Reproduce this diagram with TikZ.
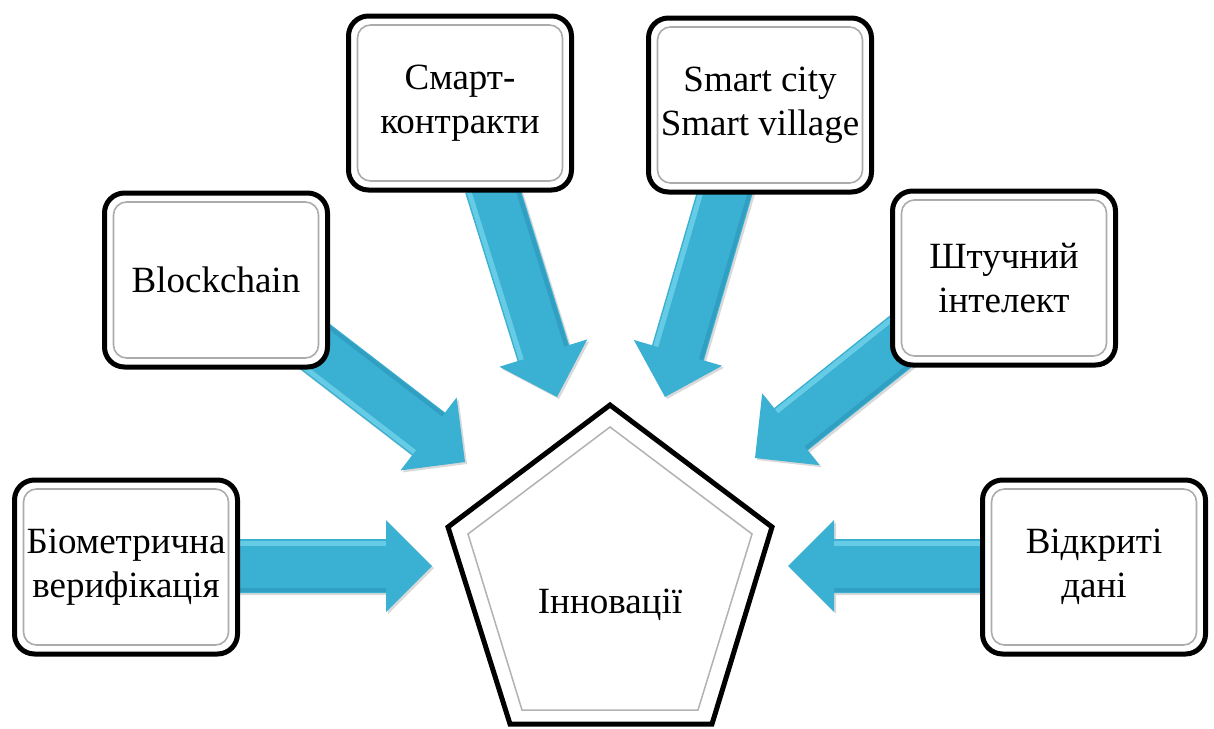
\documentclass[tikz,border=0pt]{standalone}
\usepackage{fontspec}
\setmainfont{Liberation Serif}
\usetikzlibrary{calc,shadows}
\definecolor{arrlight}{HTML}{8BE3F5}
\definecolor{arrmid}{HTML}{3AB0D2}
\definecolor{arrdark}{HTML}{2A95B6}
\tikzset{
  box/.style={draw=black, line width=5pt, rounded corners=20pt, fill=white,
    minimum width=223pt, minimum height=174pt, align=center,
    font=\fontsize{37}{44}\selectfont, inner sep=0pt,
    path picture={\draw[gray!65, line width=1.6pt, rounded corners=13pt]
      ([shift={(9pt,9pt)}]path picture bounding box.south west) rectangle
      ([shift={(-9pt,-9pt)}]path picture bounding box.north east);}},
  arrowbody/.style={fill=arrmid,
    drop shadow={opacity=0.3, shadow xshift=2pt, shadow yshift=-2pt}},
  hilite/.style={draw=arrlight, line width=5pt, opacity=0.55},
  lolite/.style={draw=arrdark, line width=4pt, opacity=0.6},
  lbl/.style={font=\fontsize{37}{44}\selectfont, align=center, inner sep=0pt},
  pentouter/.style={draw=black, line width=5pt, line join=miter, fill=white},
  pentinner/.style={draw=gray!60, line width=1.5pt},
}
% #1 tail, #2 tip, #3 side of the highlight (90 or -90)
\newcommand{\blockarrow}[3]{%
  \coordinate (hb) at ($(#2)!46pt!(#1)$);
  \path[arrowbody]
    ($(#1)!27pt!90:(#2)$) -- ($(hb)!27pt!90:(#2)$) -- ($(hb)!46pt!90:(#2)$) --
    (#2) -- ($(hb)!46pt!-90:(#2)$) -- ($(hb)!27pt!-90:(#2)$) --
    ($(#1)!27pt!-90:(#2)$) -- cycle;
  \path[hilite] ($(#1)!23pt!#3:(#2)$) -- ($(hb)!23pt!#3:(#2)$);
  \path[lolite] ($(#1)!24pt!-#3:(#2)$) -- ($(hb)!24pt!-#3:(#2)$);
}
\begin{document}
\begin{tikzpicture}[x=1pt,y=-1pt]
\useasboundingbox (0,0) rectangle (1214,728);
% arrow tails and tips
\coordinate (t1) at (230,566); \coordinate (p1) at (432,566);
\coordinate (t2) at (300,335); \coordinate (p2) at (465,462);
\coordinate (t3) at (491,185); \coordinate (p3) at (557,397);
\coordinate (t4) at (727,185); \coordinate (p4) at (665,397);
\coordinate (t5) at (915,330); \coordinate (p5) at (755,458);
\coordinate (t6) at (990,566); \coordinate (p6) at (788,566);
\blockarrow{t1}{p1}{90}
\blockarrow{t2}{p2}{-90}
\blockarrow{t3}{p3}{-90}
\blockarrow{t4}{p4}{-90}
\blockarrow{t5}{p5}{-90}
\blockarrow{t6}{p6}{-90}
% boxes
\node[box] (b1) at (126,567) {Біометрична\\верифікація};
\node[box] (b2) at (216,280) {Blockchain};
\node[box] (b3) at (460,103) {Смарт-\\контракти};
\node[box] (b4) at (760,105) {Smart city\\Smart village};
\node[box] (b5) at (1004,278) {Штучний\\інтелект};
\node[box] (b6) at (1094,567) {Відкриті\\дані};
% pentagon
\path[pentouter] (610,405) -- (772,527) -- (712,724) -- (510,724) -- (448,527) -- cycle;
\path[pentinner] (610,427) -- (752,534) -- (698,710) -- (522,710) -- (468,534) -- cycle;
\node[lbl] (inn) at (610,605) {Інновації};
\end{tikzpicture}
\end{document}
